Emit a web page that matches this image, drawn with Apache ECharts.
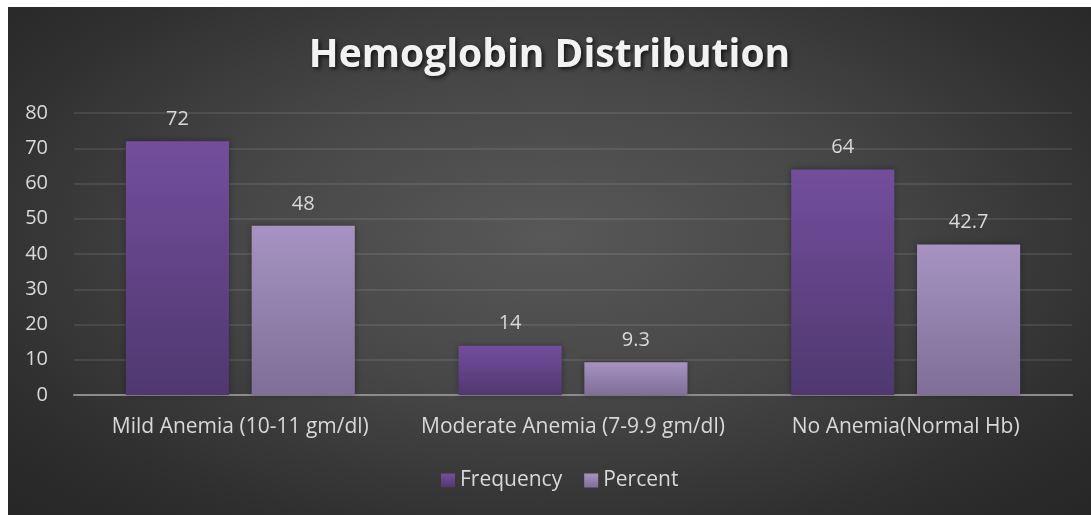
<!DOCTYPE html>
<html>
<head>
<meta charset="utf-8">
<script src="https://cdn.jsdelivr.net/npm/echarts@6/dist/echarts.min.js"></script>
<style>
html,body{margin:0;padding:0;background:#ffffff;width:1091px;height:515px;overflow:hidden;}
#wrap{position:absolute;left:8px;top:7px;width:1083px;height:508px;
background:radial-gradient(ellipse at 50% 45%, #585858 0%, #474747 40%, #2e2e2e 80%, #262626 100%);}
#chart{width:1083px;height:508px;}
</style>
</head>
<body>
<div id="wrap"><div id="chart"></div></div>
<script>
const categories = ["Mild Anemia (10-11 gm/dl)", "Moderate Anemia (7-9.9 gm/dl)", "No Anemia(Normal Hb)"];
const frequency = [72, 14, 64];
const percent = [48, 9.3, 42.7];
const yTicks = [0, 10, 20, 30, 40, 50, 60, 70, 80];

const font = "'Open Sans', 'Noto Sans', sans-serif";
const chart = echarts.init(document.getElementById('chart'), null, {renderer: 'canvas'});
const labelStyle = {show: true, position: 'top', color: '#d9d9d9', fontSize: 20, fontFamily: font, distance: 12};
chart.setOption({
  backgroundColor: 'transparent',
  animation: false,
  title: {
    text: 'Hemoglobin Distribution',
    left: 'center',
    top: 24,
    textStyle: {
      color: '#f2f2f2', fontSize: 39, fontWeight: 'bold', fontFamily: font,
      textShadowColor: 'rgba(0,0,0,0.7)', textShadowBlur: 4, textShadowOffsetX: 2, textShadowOffsetY: 2
    }
  },
  legend: {
    data: ['Frequency', 'Percent'],
    bottom: 19,
    left: 428,
    itemWidth: 14, itemHeight: 14, itemGap: 22,
    icon: 'rect',
    textStyle: {color: '#d9d9d9', fontSize: 21, fontFamily: font}
  },
  grid: {left: 66, right: 19, top: 106, bottom: 120, containLabel: false},
  xAxis: {
    type: 'category',
    data: categories,
    axisLine: {show: true, lineStyle: {color: '#8c8c8c', width: 2}},
    axisTick: {show: false},
    axisLabel: {color: '#d9d9d9', fontSize: 21, fontFamily: font, margin: 22, interval: 0}
  },
  yAxis: {
    type: 'value',
    min: yTicks[0], max: yTicks[yTicks.length - 1], interval: 10,
    axisLine: {show: false},
    axisTick: {show: false},
    axisLabel: {color: '#d9d9d9', fontSize: 20, fontFamily: font, margin: 26},
    splitLine: {lineStyle: {color: 'rgba(255,255,255,0.12)', width: 1.5}}
  },
  series: [
    {
      name: 'Frequency', type: 'bar', data: frequency,
      barWidth: '31%', barGap: '22%',
      itemStyle: {color: new echarts.graphic.LinearGradient(0, 0, 0, 1, [
        {offset: 0, color: '#734e9c'}, {offset: 1, color: '#4f3870'}]),
        shadowColor: 'rgba(0,0,0,0.35)', shadowBlur: 6},
      label: labelStyle
    },
    {
      name: 'Percent', type: 'bar', data: percent,
      barWidth: '31%',
      itemStyle: {color: new echarts.graphic.LinearGradient(0, 0, 0, 1, [
        {offset: 0, color: '#a693c2'}, {offset: 1, color: '#7f6e97'}]),
        shadowColor: 'rgba(0,0,0,0.35)', shadowBlur: 6},
      label: labelStyle
    }
  ]
});
</script>
</body>
</html>
